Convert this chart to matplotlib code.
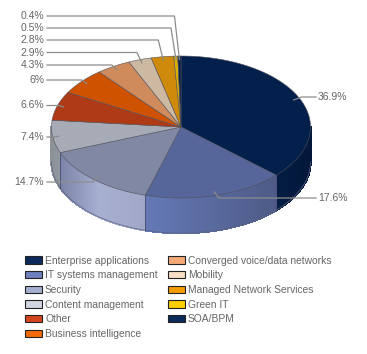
import numpy as np
import matplotlib
matplotlib.use("Agg")
import matplotlib.pyplot as plt
from matplotlib.collections import PolyCollection
from matplotlib.colors import to_rgb
from matplotlib.patches import Patch

categories = ["Enterprise applications", "IT systems management", "Security",
              "Content management", "Other", "Business intelligence",
              "Converged voice/data networks", "Mobility",
              "Managed Network Services", "Green IT", "SOA/BPM"]
shares = [36.9, 17.6, 14.7, 7.4, 6.6, 6, 4.3, 2.9, 2.8, 0.5, 0.4]
share_labels = ["36.9%", "17.6%", "14.7%", "7.4%", "6.6%", "6%", "4.3%", "2.9%",
                "2.8%", "0.5%", "0.4%"]

TOP_COLORS = ["#03204C", "#56669B", "#8088A3", "#A6ABB5", "#AE3A16", "#CE5200",
              "#CF8B5C", "#CDB8A1", "#CF890B", "#DDB000", "#0A2248"]
LEGEND_COLORS = ["#0B2A5B", "#6E80BE", "#A6AECF", "#D0D5E2", "#D2451E", "#F26A0A",
                 "#F5A878", "#F8DEC6", "#F59C00", "#FFCF00", "#0B2A5B"]
# wall colour at the left and right end of each visible slice
WALL_COLORS = {0: ("#041D42", "#03173A"), 1: ("#6479B6", "#4E5B87"),
               2: ("#7B83A6", "#A0A7C6"), 3: ("#8C9097", "#9499A2")}
WALL_PEAK = {2: (0.45, "#A8B0D2")}
TEXT, LEADER = "#666666", "#8C8C8C"

CX, CY, RX, RY, DEPTH = 181, 127, 129.5, 71, 35

LABEL_Y = [97, 198, 182, 137, 105.5, 80, 65, 52.5, 40, 28, 16]


def rim(t):
    return CX + RX * np.sin(t), CY - RY * np.cos(t)


fig = plt.figure(figsize=(3.67, 3.54), dpi=100)
ax = fig.add_axes([0, 0, 1, 1])
ax.set_xlim(0, 367)
ax.set_ylim(354, 0)
ax.axis("off")
plt.rcParams["font.family"] = ["Liberation Sans", "DejaVu Sans"]

vals = np.array(shares, dtype=float)
edges = np.concatenate([[0], np.cumsum(vals)]) / vals.sum() * 2 * np.pi

# side wall, only the front half shows
for i in WALL_COLORS:
    t0, t1 = max(edges[i], np.pi / 2), min(edges[i + 1], 3 * np.pi / 2)
    ts = np.linspace(t0, t1, 60)
    xs, ys = rim(ts)
    c_left, c_right = (to_rgb(c) for c in WALL_COLORS[i])
    frac = (xs - xs.min()) / (xs.max() - xs.min())
    if i in WALL_PEAK:
        p, c_mid = WALL_PEAK[i]
        stops_x, stops_c = [0, p, 1], [c_left, to_rgb(c_mid), c_right]
    else:
        stops_x, stops_c = [0, 1], [c_left, c_right]
    cols = [[np.interp(f, stops_x, [c[k] for c in stops_c]) for k in range(3)] for f in frac]
    quads = [[(xs[j], ys[j]), (xs[j + 1], ys[j + 1]),
              (xs[j + 1], ys[j + 1] + DEPTH), (xs[j], ys[j] + DEPTH)] for j in range(len(ts) - 1)]
    ax.add_collection(PolyCollection(quads, facecolors=cols[:-1], edgecolors=cols[:-1],
                                     lw=1.0, antialiased=False, zorder=1))
    ax.plot(xs, ys + DEPTH, color="#5A6484", lw=0.5, zorder=2)
    if t0 > np.pi / 2:
        ax.plot([xs[0], xs[0]], [ys[0], ys[0] + DEPTH], color="#4A5478", lw=0.7, zorder=2)

# top face
for i, col in enumerate(TOP_COLORS):
    ts = np.linspace(edges[i], edges[i + 1], 100)
    xs, ys = rim(ts)
    pts = np.column_stack([np.r_[CX, xs], np.r_[CY, ys]])
    ax.fill(pts[:, 0], pts[:, 1], facecolor=col, edgecolor="#50505A", lw=0.4, zorder=3)

# leaders and value labels
mids = (edges[:-1] + edges[1:]) / 2
for i, lab in enumerate(share_labels):
    x, y = CX + 0.95 * RX * np.sin(mids[i]), CY - 0.95 * RY * np.cos(mids[i])
    ly = LABEL_Y[i]
    if i < 2:
        start, elbow = 316, x + 8 if i == 0 else x + 5
        ha, tx = "left", 318
    else:
        start, elbow = 47, x - 5
        ha, tx = "right", 44
    ax.plot([start, elbow, x], [ly, ly, y], color=LEADER, lw=0.9, zorder=4,
            solid_joinstyle="miter")
    ax.text(tx, ly, lab, ha=ha, va="center", fontsize=7.5, color=TEXT, zorder=5)

handles = [Patch(facecolor=c, edgecolor="#222222", lw=0.8) for c in LEGEND_COLORS]
ax.legend(handles, categories, ncol=2, frameon=False, fontsize=7.4, labelcolor=TEXT,
          loc="upper left", bbox_to_anchor=(25 / 367, 1 - 255.5 / 354), borderaxespad=0,
          borderpad=0, handlelength=1.65, handleheight=0.7, handletextpad=0.3,
          labelspacing=0.46, columnspacing=1.0)

fig.savefig("out.png", dpi=100, facecolor="white")
